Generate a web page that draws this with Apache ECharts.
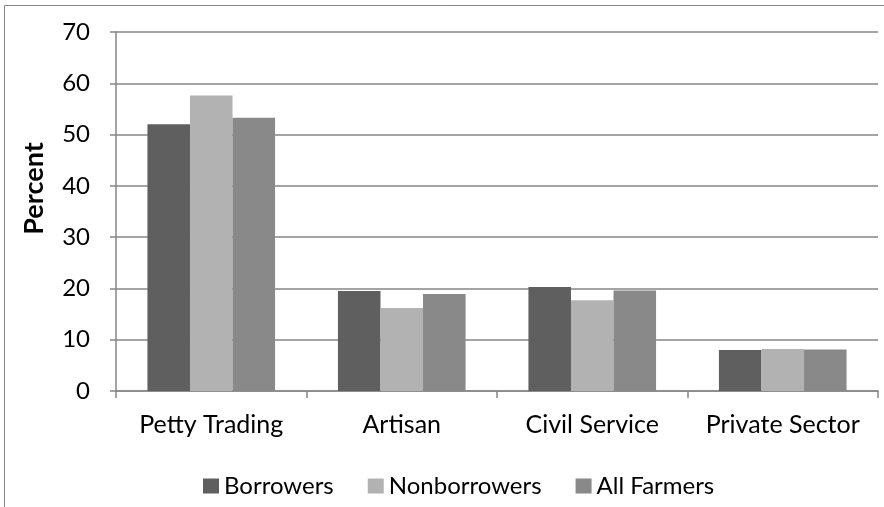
<!DOCTYPE html>
<html><head><meta charset="utf-8">
<script src="https://cdn.jsdelivr.net/npm/echarts@6/dist/echarts.min.js"></script>
<style>html,body{margin:0;padding:0;background:#fff}#c{width:884px;height:507px}</style>
</head><body><div id="c"></div>
<script>
const categories = ["Petty Trading", "Artisan", "Civil Service", "Private Sector"];
const borrowers = [52.0, 19.5, 20.3, 8.0];
const nonborrowers = [57.6, 16.2, 17.7, 8.2];
const allFarmers = [53.3, 18.9, 19.6, 8.1];
const yTicks = [0, 10, 20, 30, 40, 50, 60, 70];

const font = 'Lato, Carlito, Calibri, "Open Sans", sans-serif';
const chart = echarts.init(document.getElementById('c'));
chart.setOption({
  animation: false,
  textStyle: { fontFamily: font },
  graphic: [{ type: 'rect', shape: { x: 4.5, y: 5.5, width: 1000, height: 1000 }, style: { fill: 'none', stroke: '#868686', lineWidth: 1 } }],
  grid: { left: 116, right: 6, top: 32, bottom: 116 },
  legend: {
    bottom: 4, left: 198, itemWidth: 16, itemHeight: 15, itemGap: 34,
    icon: 'rect',
    textStyle: { fontSize: 24, color: '#000', fontFamily: font },
    data: ['Borrowers', 'Nonborrowers', 'All Farmers']
  },
  xAxis: {
    type: 'category', data: categories,
    axisLine: { lineStyle: { color: '#868686', width: 1.5 } },
    axisTick: { show: true, interval: 0, length: 7, lineStyle: { color: '#868686', width: 1.5 } },
    axisLabel: { interval: 0, hideOverlap: false, fontSize: 25, color: '#000', margin: 21, fontFamily: font }
  },
  yAxis: {
    type: 'value', min: yTicks[0], max: yTicks[yTicks.length - 1], interval: 10,
    name: 'Percent', nameLocation: 'middle', nameGap: 68, nameRotate: 90,
    nameTextStyle: { fontSize: 27, fontWeight: 'bold', color: '#000', fontFamily: font, padding: [0, 0, 0, 46] },
    axisLine: { show: true, lineStyle: { color: '#868686', width: 1.5 } },
    axisTick: { show: true, length: 6, lineStyle: { color: '#868686', width: 1.5 } },
    axisLabel: { fontSize: 24, color: '#000', margin: 26, fontFamily: font },
    splitLine: { lineStyle: { color: '#868686', width: 1.5 } }
  },
  series: [
    { name: 'Borrowers', type: 'bar', data: borrowers, itemStyle: { color: '#5f5f5f' }, barGap: '0%', barCategoryGap: '33%' },
    { name: 'Nonborrowers', type: 'bar', data: nonborrowers, itemStyle: { color: '#b2b2b2' } },
    { name: 'All Farmers', type: 'bar', data: allFarmers, itemStyle: { color: '#898989' } }
  ]
});
</script></body></html>
